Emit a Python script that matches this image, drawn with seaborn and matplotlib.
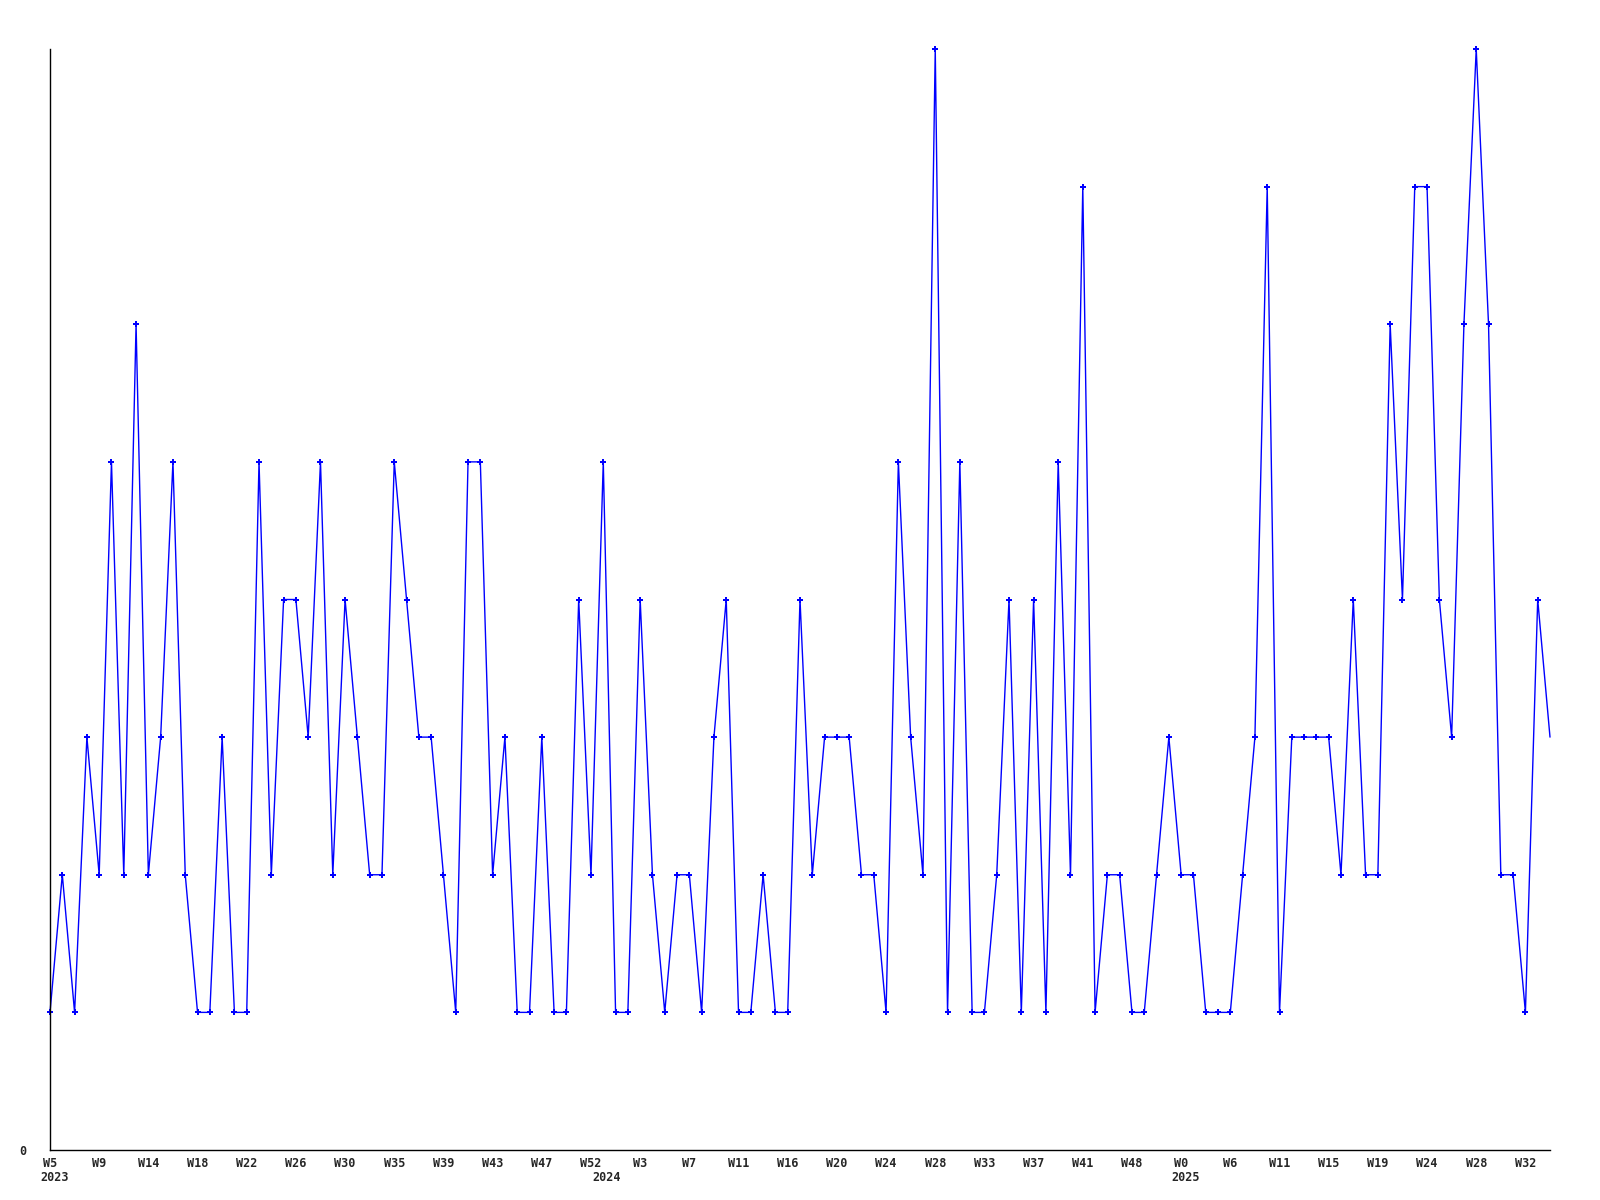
import numpy as np
import pandas as pd
import seaborn as sns
import matplotlib
matplotlib.use("Agg")
import matplotlib.pyplot as plt
import matplotlib.transforms as mtransforms

# weekly counts, 2023 W5 .. 2025 W33
values = [1, 2, 1, 3, 2, 5, 2, 6, 2, 3, 5, 2, 1, 1, 3, 1, 1, 5, 2, 4,
          4, 3, 5, 2, 4, 3, 2, 2, 5, 4, 3, 3, 2, 1, 5, 5, 2, 3, 1, 1,
          3, 1, 1, 4, 2, 5, 1, 1, 4, 2, 1, 2, 2, 1, 3, 4, 1, 1, 2, 1,
          1, 4, 2, 3, 3, 3, 2, 2, 1, 5, 3, 2, 8, 1, 5, 1, 1, 2, 4, 1,
          4, 1, 5, 2, 7, 1, 2, 2, 1, 1, 2, 3, 2, 2, 1, 1, 1, 2, 3, 7,
          1, 3, 3, 3, 3, 2, 4, 2, 2, 6, 4, 7, 7, 4, 3, 6, 8, 6, 2, 2,
          1, 4, 3]

week_labels = ["W5", "W9", "W14", "W18", "W22", "W26", "W30", "W35", "W39",
               "W43", "W47", "W52", "W3", "W7", "W11", "W16", "W20", "W24",
               "W28", "W33", "W37", "W41", "W48", "W0", "W6", "W11", "W15",
               "W19", "W24", "W28", "W32"]
years = ["2023", "2024", "2025"]
year_pos = [-0.8, 44.1, 91.2]

df = pd.DataFrame({"week": np.arange(len(values)), "count": values})

sns.set_style("white")
fig = plt.figure(figsize=(16, 12), dpi=100)
ax = fig.add_axes([50 / 1600, 50 / 1200, 1500 / 1600, 1101 / 1200])

sns.lineplot(data=df, x="week", y="count", ax=ax, color="#0000ff",
             linewidth=1, marker="P", markersize=4.5, markeredgewidth=0,
             markevery=list(range(len(values) - 1)), clip_on=False)

mono = dict(family="DejaVu Sans Mono", fontsize=8.5, fontweight="bold")
ax.set_xticks(np.arange(len(week_labels)) * 4)
ax.set_xticklabels(week_labels, **mono)
ax.set_yticks([0])
ax.set_yticklabels(["0"], **mono)
ax.tick_params(axis="x", length=0, pad=5)
ax.tick_params(axis="y", length=0, pad=17)

ax.set_xlim(0, len(values) - 1)
ax.set_ylim(0, 8)

trans = mtransforms.blended_transform_factory(ax.transData, ax.transAxes)
for yr, xp in zip(years, year_pos):
    ax.text(xp, -0.019, yr, transform=trans, ha="left", va="top", **mono)

ax.set_xlabel("")
ax.set_ylabel("")
for side in ["top", "right"]:
    ax.spines[side].set_visible(False)
for side in ["left", "bottom"]:
    ax.spines[side].set_color("black")
    ax.spines[side].set_linewidth(1)

fig.savefig("out.png", dpi=100)
